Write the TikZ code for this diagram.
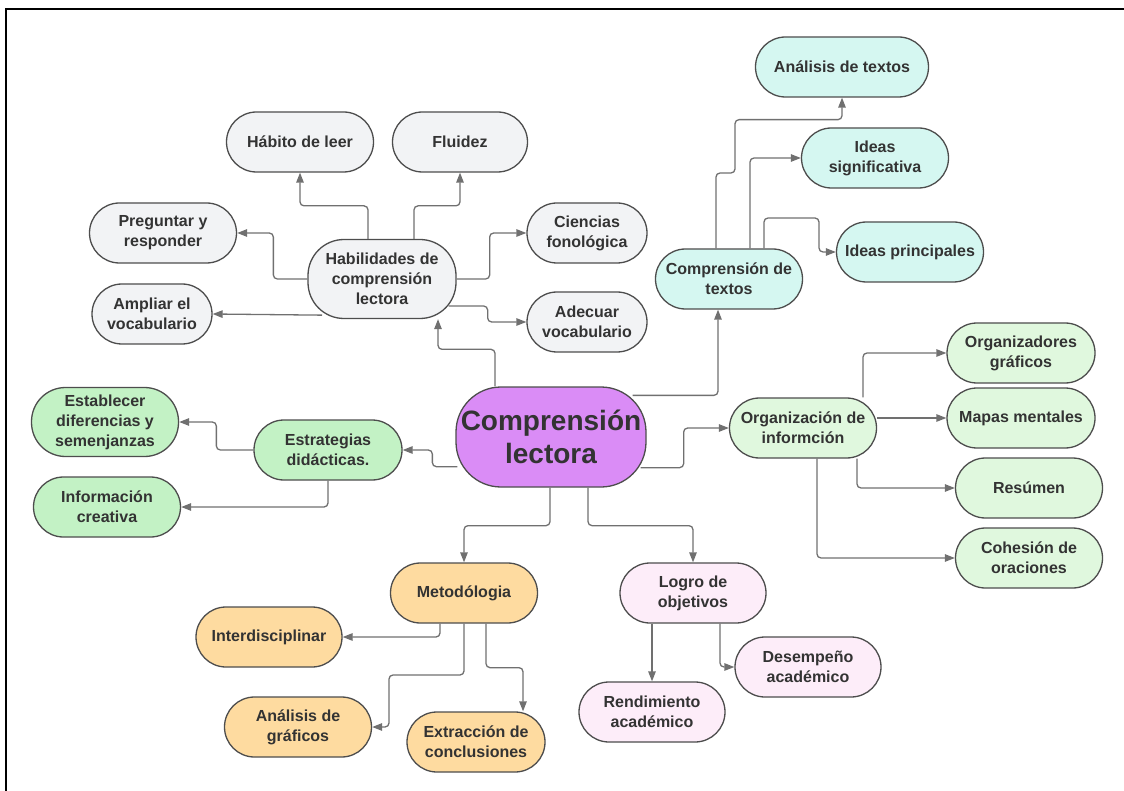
\documentclass[tikz,border=0pt]{standalone}
\usepackage{fontspec}
\setmainfont{Liberation Sans}
\usetikzlibrary{arrows.meta,calc}

\definecolor{gris}{RGB}{242,243,245}
\definecolor{cian}{RGB}{213,247,241}
\definecolor{verde}{RGB}{224,248,222}
\definecolor{verdeb}{RGB}{195,242,197}
\definecolor{naranja}{RGB}{254,219,160}
\definecolor{rosa}{RGB}{253,237,249}
\definecolor{morado}{RGB}{218,140,246}
\definecolor{borde}{RGB}{77,77,77}
\definecolor{texto}{RGB}{51,51,51}
\definecolor{flechas}{RGB}{112,112,112}

\begin{document}
\begin{tikzpicture}[x=1pt,y=-1pt,
caja/.style={draw=borde,line width=1.3pt,rounded corners=30pt,minimum width=147pt,minimum height=60pt,inner sep=0pt,align=center,text=texto,font=\bfseries\fontsize{16}{20}\selectfont},
link/.style={draw=flechas,line width=1.3pt,rounded corners=4pt,-{Triangle[length=10pt,width=7.5pt]}}]

\useasboundingbox (0,0) rectangle (1124,791);
\draw[line width=2.5pt] (6,795) -- (6,9) -- (1130,9);

\node[caja,fill=morado,minimum width=190pt,minimum height=100pt,rounded corners=45pt,font=\bfseries\fontsize{28}{33}\selectfont] (main) at (551,437) {Comprensión\\lectora};

\node[caja,fill=gris,minimum width=148pt,minimum height=79pt,rounded corners=36pt] (hab) at (382,279) {Habilidades de\\comprensión\\lectora};
\node[caja,fill=gris] (habito) at (300,142) {Hábito de leer};
\node[caja,fill=gris,minimum width=135pt] (fluidez) at (460,142) {Fluidez};
\node[caja,fill=gris] (preg) at (163,233) {Preguntar y\\responder};
\node[caja,fill=gris,minimum width=120pt] (ampliar) at (152,314) {Ampliar el\\vocabulario};
\node[caja,fill=gris,minimum width=120pt] (ciencias) at (587,233) {Ciencias\\fonológica};
\node[caja,fill=gris,minimum width=120pt] (adecuar) at (587,322) {Adecuar\\vocabulario};

\node[caja,fill=cian] (ctextos) at (729,279) {Comprensión de\\textos};
\node[caja,fill=cian,minimum width=173pt] (analisis) at (842,67) {Análisis de textos};
\node[caja,fill=cian] (ideassig) at (875,158) {Ideas\\significativa};
\node[caja,fill=cian] (ideasprin) at (910,252) {Ideas principales};

\node[caja,fill=verde] (org) at (803,428) {Organización de\\informción};
\node[caja,fill=verde,minimum width=148pt] (organiz) at (1021,353) {Organizadores\\gráficos};
\node[caja,fill=verde,minimum width=148pt] (mapas) at (1021,418) {Mapas mentales};
\node[caja,fill=verde] (resumen) at (1029,488) {Resúmen};
\node[caja,fill=verde] (cohesion) at (1029,558) {Cohesión de\\oraciones};

\node[caja,fill=verdeb,minimum width=148pt] (estrat) at (328,450) {Estrategias\\didácticas.};
\node[caja,fill=verdeb,minimum height=69pt,rounded corners=34pt] (establecer) at (105,422) {Establecer\\diferencias y\\semenjanzas};
\node[caja,fill=verdeb] (info) at (107,507) {Información\\creativa};

\node[caja,fill=naranja] (metodo) at (464,593) {Metodólogia};
\node[caja,fill=naranja,minimum width=146pt] (interd) at (269,637) {Interdisciplinar};
\node[caja,fill=naranja] (agraf) at (298,727) {Análisis de\\gráficos};
\node[caja,fill=naranja,minimum width=138pt] (extrac) at (476,742) {Extracción de\\conclusiones};

\node[caja,fill=rosa,minimum width=146pt] (logro) at (693,593) {Logro de\\objetivos};
\node[caja,fill=rosa,minimum width=146pt] (desemp) at (808,667) {Desempeño\\académico};
\node[caja,fill=rosa,minimum width=146pt] (rendim) at (652,712) {Rendimiento\\académico};

\draw[link] ([xshift=-56pt]main.north) -- ++(0,-37) -| ([xshift=56pt]hab.south);
\draw[link] ([xshift=-14pt]hab.north) -- ++(0,-33) -| (habito.south);
\draw[link] ([xshift=32pt]hab.north) -- ++(0,-33) -| (fluidez.south);
\draw[link] (hab.west) -- ++(-34,0) |- (preg.east);
\draw[link] ($(hab.south)+(-60,-4)$) -- (ampliar.east);
\draw[link] (hab.east) -- ++(33,0) |- (ciencias.west);
\draw[link] ($(hab.east)+(-8,27)$) -- ++(39,0) |- (adecuar.west);

\draw[link] ($(main.north east)+(-14,9)$) -| ([xshift=-11pt]ctextos.south);
\draw[link] ([xshift=-13pt]ctextos.north) |- (735,173) |- ($(analisis.south)+(0,22)$) -- (analisis.south);
\draw[link] ([xshift=21pt]ctextos.north) |- (ideassig.west);
\draw[link] ([xshift=35pt]ctextos.north) |- (819,218) |- (ideasprin.west);

\draw[link] ($(main.south east)+(-6,-20)$) -- ++(43,0) |- (org.west);
\draw[link] ([xshift=60pt]org.north) |- (organiz.west);
\draw[link] ($(org.east)+(0,-10)$) -- (mapas.west);
\draw[link] ([xshift=54pt]org.south) |- (resumen.west);
\draw[link] ([xshift=14pt]org.south) |- (cohesion.west);

\draw[link] ($(main.south west)+(2,-21)$) -- ++(-25,0) |- (estrat.east);
\draw[link] (estrat.west) -- ++(-37,0) |- (establecer.east);
\draw[link] (estrat.south) |- (info.east);

\draw[link] ([xshift=-1pt]main.south) -- ++(0,38) -| (metodo.north);
\draw[link] ([xshift=37pt]main.south) -- ++(0,38) -| (logro.north);
\draw[link] ([xshift=-24pt]metodo.south) |- (interd.east);
\draw[link] (metodo.south) |- (389,675) |- (agraf.east);
\draw[link] ([xshift=22pt]metodo.south) -- ++(0,44) -| ([xshift=47pt]extrac.north);
\draw[link] (rendim.north |- logro.south) -- (rendim.north);
\draw[link] ([xshift=27pt]logro.south) |- (desemp.west);
\end{tikzpicture}
\end{document}
